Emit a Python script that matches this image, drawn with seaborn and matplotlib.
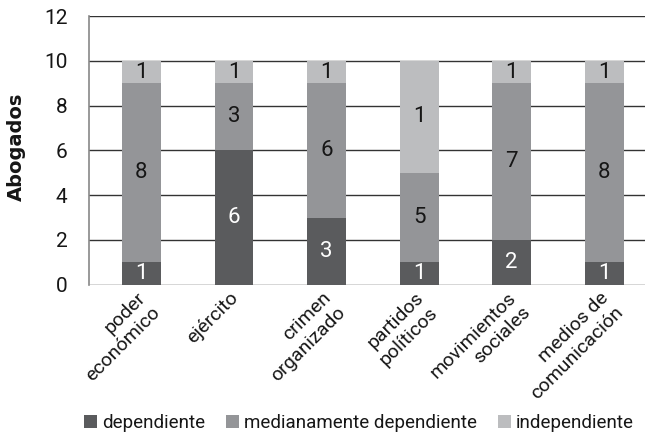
import matplotlib
matplotlib.use("Agg")
import matplotlib.pyplot as plt
import matplotlib.transforms as mtransforms
import seaborn as sns
import pandas as pd
import numpy as np
from matplotlib.patches import Patch

categories = ["poder\neconómico", "ejército", "crimen\norganizado", "partidos\npolíticos",
              "movimientos\nsociales", "medios de\ncomunicación"]
dependiente = [1, 6, 3, 1, 2, 1]
medianamente = [8, 3, 6, 4, 7, 8]
independiente = [1, 1, 1, 5, 1, 1]
label_dep = ["1", "6", "3", "1", "2", "1"]
label_med = ["8", "3", "6", "5", "7", "8"]
label_ind = ["1", "1", "1", "1", "1", "1"]
series_names = ["dependiente", "medianamente dependiente", "independiente"]
colors = ["#5a5b5d", "#949598", "#bcbdbf"]

sns.set_style("white")
plt.rcParams["font.family"] = ["Roboto", "DejaVu Sans"]

dep = np.array(dependiente)
med = np.array(medianamente)
ind = np.array(independiente)
df = pd.DataFrame({"cat": categories, "dep": dep, "c2": dep + med, "c3": dep + med + ind})

fig, ax = plt.subplots(figsize=(6.45, 4.38), dpi=100)
fig.subplots_adjust(left=0.138, right=1.0, top=0.963, bottom=0.35)

for col, c in zip(["c3", "c2", "dep"], colors[::-1]):
    sns.barplot(data=df, x="cat", y=col, color=c, width=0.42, ax=ax,
                saturation=1, linewidth=0, zorder=3)

bottoms = [np.zeros(len(dep)), dep, dep + med]
heights = [dep, med, ind]
labels = [label_dep, label_med, label_ind]
tcolors = ["white", "#161616", "#161616"]
for b, h, lab, tc in zip(bottoms, heights, labels, tcolors):
    for i in range(len(categories)):
        ax.text(i, b[i] + h[i] / 2, lab[i], ha="center", va="center",
                color=tc, fontsize=16, zorder=5)

ax.set_ylim(0, 12)
ax.set_yticks(range(0, 13, 2))
ax.set_xlim(-0.567, 5.44)
ax.yaxis.grid(True, color="#333333", linewidth=1.0, zorder=0)
ax.set_axisbelow(True)
for s in ["top", "right", "bottom"]:
    ax.spines[s].set_visible(False)
ax.spines["left"].set_color("#888888")
ax.spines["left"].set_linewidth(1.2)
ax.tick_params(axis="y", length=12.5, width=1.0, color="#333333", labelsize=15, pad=3,
               labelcolor="#161616")
ax.tick_params(axis="x", length=0, labelsize=14, pad=3, labelcolor="#161616")
ax.set_xlabel("")
ax.set_ylabel("Abogados", fontsize=14, fontweight="bold",
              family=["DejaVu Sans"], color="#161616")
ax.yaxis.set_label_coords(-0.113, 0.515)
shift = mtransforms.ScaledTranslation(-5 / 100, 0, fig.dpi_scale_trans)
for t in ax.get_xticklabels():
    t.set_rotation(45)
    t.set_ha("right")
    t.set_rotation_mode("anchor")
    t.set_multialignment("right")
    t.set_transform(t.get_transform() + shift)

handles = [Patch(facecolor=c, edgecolor="none") for c in colors]
fig.legend(handles, series_names, loc="center", bbox_to_anchor=(0.557, 0.034),
           ncol=3, frameon=False, fontsize=13.5, handlelength=0.7, handleheight=0.7,
           handletextpad=0.27, columnspacing=1.1, labelcolor="#161616")

fig.savefig("out.png", dpi=100)
